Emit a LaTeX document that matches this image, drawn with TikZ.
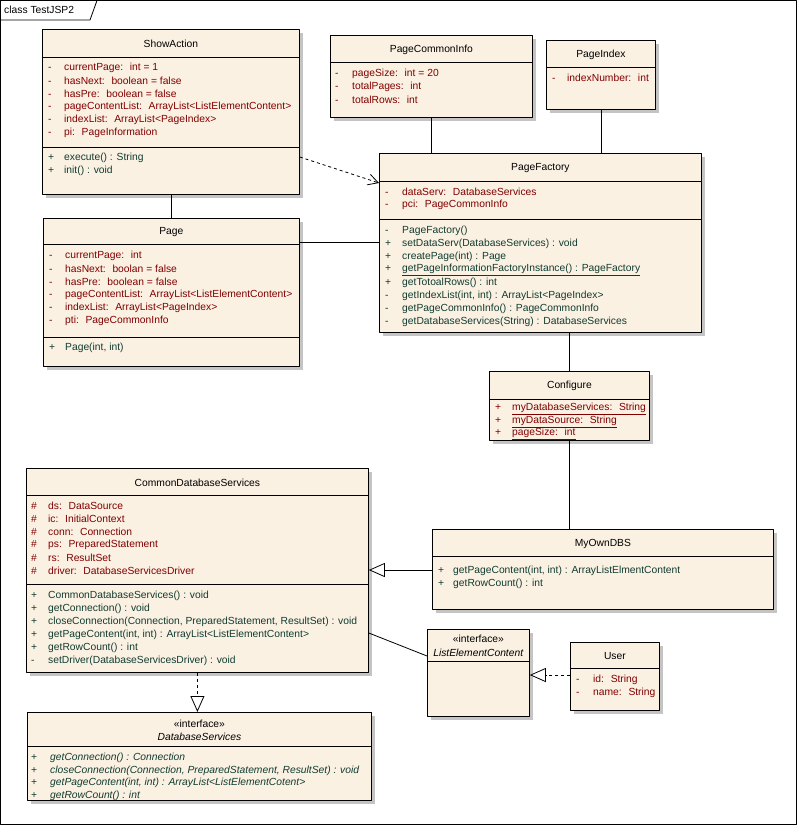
\documentclass[tikz,border=0pt]{standalone}
\usepackage{fontspec}
\setmainfont{Liberation Sans}
\usetikzlibrary{arrows.meta,shadows}
\definecolor{clsfill}{RGB}{251,241,227}
\definecolor{attrcol}{RGB}{128,0,0}
\definecolor{opcol}{RGB}{16,60,48}
\definecolor{shadowgray}{RGB}{196,196,196}
\tikzset{
	cls/.style={draw, line width=0.8pt, fill=clsfill, anchor=north west, inner sep=0pt,
		drop shadow={shadow xshift=4pt, shadow yshift=-4pt, fill=shadowgray, opacity=1}},
	ttl/.style={inner sep=0pt, text=black, yshift=-1pt},
	attr/.style={anchor=west, inner sep=0pt, text=attrcol, yshift=-1pt},
	op/.style={anchor=west, inner sep=0pt, text=opcol, yshift=-1pt},
	sep/.style={line width=0.8pt},
	assoc/.style={line width=0.8pt},
	dep/.style={line width=0.8pt, dash pattern=on 3pt off 3pt, -{Straight Barb[length=10pt, width=11pt]}},
	real/.style={line width=0.8pt, dash pattern=on 3pt off 3pt, -{Triangle[fill=white, length=16pt, width=14pt, line width=0.8pt]}},
	gen/.style={line width=0.8pt, -{Triangle[fill=white, length=16pt, width=14pt, line width=0.8pt]}}
}
\begin{document}
\begin{tikzpicture}[x=1pt, y=-1pt, line join=round, font=\fontsize{10.3}{12}\selectfont]
	\useasboundingbox (0,0) rectangle (799,826);
	% frame
	\draw[line width=0.8pt] (0.5,0.5) rectangle (796,824);
	\draw[line width=0.8pt] (0.5,20) -- (90,20) -- (97,0.5);
	\node[anchor=west, inner sep=0pt] (frameName) at (4,10) {class TestJSP2};
	
	% ShowAction
	\node[cls, minimum width=257pt, minimum height=165pt] (ShowAction) at (42,29) {};
	\node[ttl] (ShowActionName) at ([yshift=-14pt]ShowAction.north) {ShowAction};
	\draw[sep] (42,57) -- ++(257,0) (42,147) -- ++(257,0);
	\foreach \v/\t [count=\i from 0] in {-/{currentPage:~ int = 1}, -/{hasNext:~ boolean = false}, -/{hasPre:~ boolean = false}, -/{pageContentList:~ ArrayList<ListElementContent>}, -/{indexList:~ ArrayList<PageIndex>}, -/{pi:~ PageInformation}}
		\node[attr] (sa-a\i) at (48,67+13*\i) {\makebox[16pt][l]{\v}\t};
	\foreach \v/\t [count=\i from 0] in {+/{execute() : String}, +/{init() : void}}
		\node[op] (sa-o\i) at (48,157+13*\i) {\makebox[16pt][l]{\v}\t};
	
	% Page
	\node[cls, minimum width=256pt, minimum height=148pt] (Page) at (43,218) {};
	\node[ttl] (PageName) at ([yshift=-13pt]Page.north) {Page};
	\draw[sep] (43,244) -- ++(256,0) (43,337) -- ++(256,0);
	\foreach \v/\t [count=\i from 0] in {-/{currentPage:~ int}, -/{hasNext:~ boolan = false}, -/{hasPre:~ boolean = false}, -/{pageContentList:~ ArrayList<ListElementContent>}, -/{indexList:~ ArrayList<PageIndex>}, -/{pti:~ PageCommonInfo}}
		\node[attr] (pg-a\i) at (49,255+13*\i) {\makebox[16pt][l]{\v}\t};
	\node[op] (pg-o0) at (49,347) {\makebox[16pt][l]{+}Page(int, int)};
	
	% PageCommonInfo
	\node[cls, minimum width=202pt, minimum height=82pt] (PageCommonInfo) at (330,35) {};
	\node[ttl] (PageCommonInfoName) at ([yshift=-13.5pt]PageCommonInfo.north) {PageCommonInfo};
	\draw[sep] (330,62) -- ++(202,0);
	\foreach \v/\t [count=\i from 0] in {-/{pageSize:~ int = 20}, -/{totalPages:~ int}, -/{totalRows:~ int}}
		\node[attr] (pci-a\i) at (335,73+13*\i) {\makebox[17pt][l]{\v}\t};
	
	% PageIndex
	\node[cls, minimum width=109pt, minimum height=69pt] (PageIndex) at (546,40) {};
	\node[ttl] (PageIndexName) at ([yshift=-13.5pt]PageIndex.north) {PageIndex};
	\draw[sep] (546,67) -- ++(109,0);
	\node[attr] (pi-a0) at (552,77) {\makebox[15pt][l]{-}indexNumber:~ int};
	
	% PageFactory
	\node[cls, minimum width=322pt, minimum height=179pt] (PageFactory) at (379,153) {};
	\node[ttl] (PageFactoryName) at ([yshift=-14pt]PageFactory.north) {PageFactory};
	\draw[sep] (379,181) -- ++(322,0) (379,219) -- ++(322,0);
	\foreach \v/\t [count=\i from 0] in {-/{dataServ:~ DatabaseServices}, -/{pci:~ PageCommonInfo}}
		\node[attr] (pf-a\i) at (385,191+13*\i) {\makebox[17pt][l]{\v}\t};
	\foreach \v/\t [count=\i from 0] in {-/{PageFactory()}, +/{setDataServ(DatabaseServices) : void}, +/{createPage(int) : Page}, +/{\underline{getPageInformationFactoryInstance() : PageFactory}}, +/{getTotoalRows() : int}, -/{getIndexList(int, int) : ArrayList<PageIndex>}, -/{getPageCommonInfo() : PageCommonInfo}, -/{getDatabaseServices(String) : DatabaseServices}}
		\node[op] (pf-o\i) at (385,230+13*\i) {\makebox[17pt][l]{\v}\t};
	
	% Configure
	\node[cls, minimum width=160pt, minimum height=69pt] (Configure) at (489,371) {};
	\node[ttl] (ConfigureName) at ([yshift=-14pt]Configure.north) {Configure};
	\draw[sep] (489,399) -- ++(160,0);
	\foreach \v/\t [count=\i from 0] in {+/{\underline{myDatabaseServices:~ String}}, +/{\underline{myDataSource:~ String}}, +/{\underline{pageSize:~ int}}}
		\node[attr] (cf-a\i) at (495,408+12.5*\i) {\makebox[17pt][l]{\v}\t};
	
	% CommonDatabaseServices
	\node[cls, minimum width=342pt, minimum height=204pt] (CDS) at (26,468) {};
	\node[ttl] (CDSName) at ([yshift=-13.5pt]CDS.north) {CommonDatabaseServices};
	\draw[sep] (26,495) -- ++(342,0) (26,584) -- ++(342,0);
	\foreach \v/\t [count=\i from 0] in {\#/{ds:~ DataSource}, \#/{ic:~ InitialContext}, \#/{conn:~ Connection}, \#/{ps:~ PreparedStatement}, \#/{rs:~ ResultSet}, \#/{driver:~ DatabaseServicesDriver}}
		\node[attr] (cds-a\i) at (31,505+13*\i) {\makebox[17pt][l]{\v}\t};
	\foreach \v/\t [count=\i from 0] in {+/{CommonDatabaseServices() : void}, +/{getConnection() : void}, +/{closeConnection(Connection, PreparedStatement, ResultSet) : void}, +/{getPageContent(int, int) : ArrayList<ListElementContent>}, +/{getRowCount() : int}, -/{setDriver(DatabaseServicesDriver) : void}}
		\node[op] (cds-o\i) at (31,595+13*\i) {\makebox[17pt][l]{\v}\t};
	
	% MyOwnDBS
	\node[cls, minimum width=341pt, minimum height=80pt] (MyOwnDBS) at (432,529) {};
	\node[ttl] (MyOwnDBSName) at ([yshift=-13.5pt]MyOwnDBS.north) {MyOwnDBS};
	\draw[sep] (432,556) -- ++(341,0);
	\foreach \v/\t [count=\i from 0] in {+/{getPageContent(int, int) : ArrayListElmentContent}, +/{getRowCount() : int}}
		\node[op] (my-o\i) at (438,570+13*\i) {\makebox[15pt][l]{\v}\t};
	
	% ListElementContent
	\node[cls, minimum width=102pt, minimum height=87pt] (ListElementContent) at (427,629) {};
	\node[ttl] (LECStereo) at ([yshift=-9pt]ListElementContent.north) {«interface»};
	\node[ttl] (LECName) at ([yshift=-23pt]ListElementContent.north) {\textit{ListElementContent}};
	\draw[sep] (427,661) -- ++(102,0);
	
	% User
	\node[cls, minimum width=89pt, minimum height=68pt] (User) at (570,642) {};
	\node[ttl] (UserName) at ([yshift=-13pt]User.north) {User};
	\draw[sep] (570,668) -- ++(89,0);
	\foreach \v/\t [count=\i from 0] in {-/{id:~ String}, -/{name:~ String}}
		\node[attr] (us-a\i) at (576,679+13*\i) {\makebox[17pt][l]{\v}\t};
	
	% DatabaseServices
	\node[cls, minimum width=344pt, minimum height=88pt] (DatabaseServices) at (27,712) {};
	\node[ttl] (DSStereo) at ([yshift=-11pt]DatabaseServices.north) {«interface»};
	\node[ttl] (DSName) at ([yshift=-24pt]DatabaseServices.north) {\textit{DatabaseServices}};
	\draw[sep] (27,746) -- ++(344,0);
	\foreach \v/\t [count=\i from 0] in {+/{getConnection() : Connection}, +/{closeConnection(Connection, PreparedStatement, ResultSet) : void}, +/{getPageContent(int, int) : ArrayList<ListElementCotent>}, +/{getRowCount() : int}}
		\node[op] (ds-o\i) at (31,757+12.5*\i) {\makebox[19pt][l]{\v}\textit{\t}};
	
	% connectors
	\draw[assoc] (ShowAction.south) -- (ShowAction.south |- Page.north);
	\draw[assoc] (PageCommonInfo.south) -- (PageCommonInfo.south |- PageFactory.north);
	\draw[assoc] (PageIndex.south) -- (PageIndex.south |- PageFactory.north);
	\coordinate (pgR) at ([yshift=-24pt]Page.north east);
	\draw[assoc] (pgR) -- (pgR -| PageFactory.west);
	\draw[dep] ([yshift=-128pt]ShowAction.north east) -- ([yshift=-30pt]PageFactory.north west);
	\draw[assoc] (Configure.north |- PageFactory.south) -- (Configure.north);
	\draw[assoc] (Configure.south) -- (Configure.south |- MyOwnDBS.north);
	\coordinate (myL) at ([yshift=-41pt]MyOwnDBS.north west);
	\draw[gen] (myL) -- (myL -| CDS.east);
	\draw[assoc] ([yshift=-165pt]CDS.north east) -- ([yshift=-27pt]ListElementContent.north west);
	\draw[real] (CDS.south) -- (CDS.south |- DatabaseServices.north);
	\coordinate (usL) at ([yshift=-33pt]User.north west);
	\draw[real] (usL) -- (usL -| ListElementContent.east);
\end{tikzpicture}
\end{document}
